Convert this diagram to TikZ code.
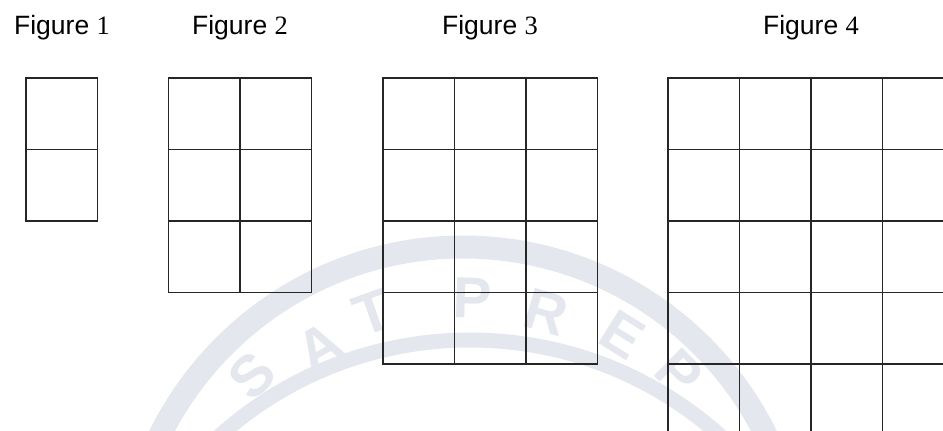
\documentclass[tikz,border=0pt]{standalone}
\usepackage{fontspec}
\newfontfamily\arialf{Liberation Sans}
\newfontfamily\timesf{Liberation Serif}
\definecolor{wm}{RGB}{229,231,239}
\newcommand\sqgrid[3]{%
  \foreach \i in {0,...,#2} \draw[gl] ({#1+\i*71.5},78) -- ({#1+\i*71.5},{78+#3*71.5});
  \foreach \j in {0,...,#3} \draw[gl] (#1,{78+\j*71.5}) -- ({#1+#2*71.5},{78+\j*71.5});
}
\begin{document}
\begin{tikzpicture}[x=1pt,y=-1pt,
  gl/.style={line width=1.2pt, draw=black!85, line cap=rect},
  lbl/.style={font=\fontsize{26.5}{30}\selectfont, anchor=base, inner sep=0pt},
  wmletter/.style={text=wm, font=\arialf\bfseries\fontsize{58}{58}\selectfont, inner sep=0pt}]
\useasboundingbox (0,0) rectangle (943,431);
\clip (0,0) rectangle (943,431);
% watermark
\draw[wm, line width=23pt] (463,585) circle[radius=338pt];
\draw[wm, line width=15pt] (470,715) circle[radius=375pt];
\node[wmletter, rotate=45]    (w1) at (252,376) {S};
\node[wmletter, rotate=29.6]  (w2) at (320,347) {A};
\node[wmletter, rotate=19.5]  (w3) at (373,313) {T};
\node[wmletter, rotate=-1.8]  (w4) at (472,298) {P};
\node[wmletter, rotate=-16.3] (w5) at (546,312) {R};
\node[wmletter, rotate=-31.9] (w6) at (622,335) {E};
\node[wmletter, rotate=-44.7] (w7) at (679,373) {P};
% labels
\node[lbl] (f1) at (62,34.5)  {{\arialf Figure }{\timesf 1}};
\node[lbl] (f2) at (240,34.5) {{\arialf Figure }{\timesf 2}};
\node[lbl] (f3) at (490,34.5) {{\arialf Figure }{\timesf 3}};
\node[lbl] (f4) at (811,34.5) {{\arialf Figure }{\timesf 4}};
% grids
\sqgrid{26}{1}{2}
\sqgrid{168.5}{2}{3}
\sqgrid{383}{3}{4}
\sqgrid{668}{4}{5}
\end{tikzpicture}
\end{document}
